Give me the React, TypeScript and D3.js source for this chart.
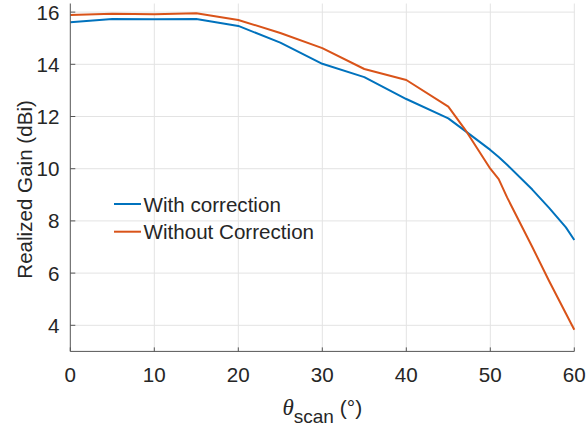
import React from "react";
import * as d3 from "d3";

const theta = [0, 5, 10, 15, 20, 25, 30, 35, 40, 45, 47, 50, 51, 52, 55, 57, 59, 60];
const withCorrection = [15.61, 15.74, 15.73, 15.74, 15.47, 14.83, 14.02, 13.51, 12.67, 11.93, 11.45, 10.72, 10.45, 10.15, 9.2, 8.5, 7.75, 7.27];
const withoutCorrection = [15.89, 15.94, 15.92, 15.96, 15.7, 15.2, 14.62, 13.82, 13.4, 12.38, 11.5, 10.0, 9.6, 8.9, 7.0, 5.7, 4.45, 3.83];
const xTicks = [0, 10, 20, 30, 40, 50, 60];
const yTicks = [4, 6, 8, 10, 12, 14, 16];
const seriesNames = ["With correction", "Without Correction"];
const seriesColors = ["#0072BD", "#D95319"];

export default function App() {
  const W = 587, H = 426;
  const x = d3.scaleLinear().domain([0, 60]).range([70.3, 574.3]);
  const y = d3.scaleLinear().domain([3, 16.33]).range([351.4, 3.5]);
  const line = d3.line<number>().x((_, i) => x(theta[i])).y((v) => y(v));
  const series = [withCorrection, withoutCorrection];
  const font = "'Liberation Sans', Arial, Helvetica, sans-serif";
  const x0 = x.range()[0], x1 = x.range()[1];
  const yb = y.range()[0], yt = y.range()[1];
  const fs = 20.6;
  return (
    <svg width={W} height={H} style={{ position: "absolute", left: 0, top: 0, background: "#fff" }} fontFamily={font}>
      {/* grid */}
      {xTicks.filter((t) => t > 0).map((t) => (
        <line key={"gx" + t} x1={x(t)} x2={x(t)} y1={yb} y2={yt} stroke="#e3e3e3" strokeWidth={1} />
      ))}
      {yTicks.map((t) => (
        <line key={"gy" + t} x1={x0} x2={x1} y1={y(t)} y2={y(t)} stroke="#e3e3e3" strokeWidth={1} />
      ))}
      {/* lines */}
      {series.map((s, i) => (
        <path key={"s" + i} d={line(s) || ""} fill="none" stroke={seriesColors[i]} strokeWidth={2} strokeLinejoin="round" />
      ))}
      {/* axes */}
      <line x1={x0} x2={x0} y1={yb} y2={yt} stroke="#555" strokeWidth={1} />
      <line x1={x0} x2={x1} y1={yb} y2={yb} stroke="#555" strokeWidth={1} />
      {xTicks.map((t) => (
        <g key={"xt" + t}>
          <line x1={x(t)} x2={x(t)} y1={yb} y2={yb - 4} stroke="#555" />
          <text x={x(t)} y={382} textAnchor="middle" fontSize={fs} fill="#262626">{t}</text>
        </g>
      ))}
      {yTicks.map((t) => (
        <g key={"yt" + t}>
          <line x1={x0} x2={x0 + 5} y1={y(t)} y2={y(t)} stroke="#555" />
          <text x={59.5} y={y(t)} dy="0.36em" textAnchor="end" fontSize={fs} fill="#262626">{t}</text>
        </g>
      ))}
      {/* y label */}
      <text transform={`translate(32,${(yb + yt) / 2 + 12}) rotate(-90)`} textAnchor="middle" fontSize={fs} fill="#262626">
        Realized Gain (dBi)
      </text>
      {/* x label */}
      <text x={(x0 + x1) / 2} y={415} textAnchor="middle" fontSize={21} fill="#262626">
        <tspan fontFamily="'Liberation Serif', 'Times New Roman', serif" fontStyle="italic" fontSize={23}>θ</tspan>
        <tspan fontSize={19} dy={8}>scan</tspan>
        <tspan dy={-8}> (°)</tspan>
      </text>
      {/* legend */}
      {seriesNames.map((n, i) => (
        <g key={"lg" + i}>
          <line x1={114} x2={141} y1={204 + i * 27.7} y2={204 + i * 27.7} stroke={seriesColors[i]} strokeWidth={2} />
          <text x={143.5} y={211.5 + i * 27.7} fontSize={fs} fill="#262626">{n}</text>
        </g>
      ))}
    </svg>
  );
}
